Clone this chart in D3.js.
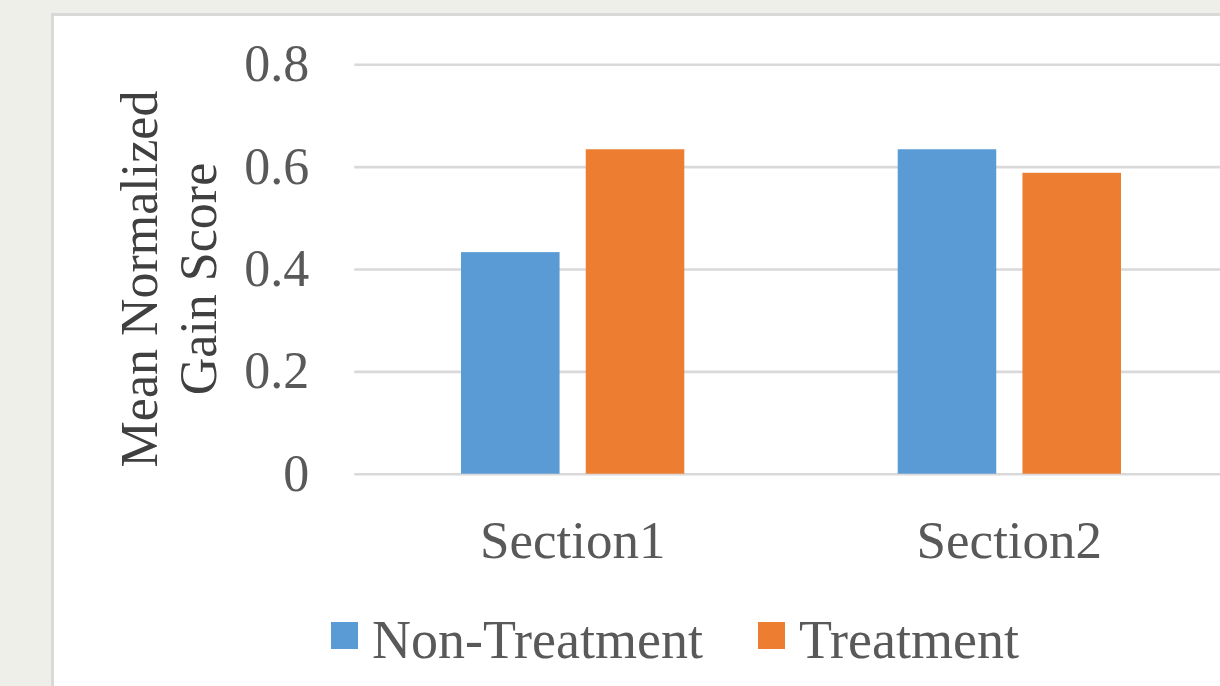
<!DOCTYPE html>
<html>
<head>
<meta charset="utf-8">
<script src="https://cdn.jsdelivr.net/npm/d3@7"></script>
<style>
  html, body { margin: 0; padding: 0; background: #efefea; }
  svg { display: block; }
  text { font-family: "Liberation Serif", "Times New Roman", serif; }
</style>
</head>
<body>
<div id="chart"></div>
<script>
const categories = ['Section1', 'Section2'];
const seriesNames = ['Non-Treatment', 'Treatment'];
const nonTreatment = [0.433, 0.634];
const treatment = [0.634, 0.588];
const yTicks = [0, 0.2, 0.4, 0.6, 0.8];
const colors = ['#5b9bd5', '#ed7d31'];

const width = 1220;
const height = 686;

const svg = d3.select('#chart')
    .append('svg')
    .attr('width', width)
    .attr('height', height);

// page background and white card
svg.append('rect')
    .attr('width', width)
    .attr('height', height)
    .attr('fill', '#efefea');

svg.append('rect')
    .attr('x', 52.5)
    .attr('y', 14.5)
    .attr('width', 1300)
    .attr('height', 800)
    .attr('fill', '#ffffff')
    .attr('stroke', '#d9d9d9')
    .attr('stroke-width', 3);

const plot = { left: 354.3, right: 1227.7, top: 64.3, bottom: 473.7 };

const y = d3.scaleLinear()
    .domain([0, 0.8])
    .range([plot.bottom, plot.top]);

const x0 = d3.scaleBand()
    .domain(categories)
    .range([plot.left, plot.right])
    .padding(0);

const groupPad = 106.7;
const x1 = d3.scaleBand()
    .domain(seriesNames)
    .range([groupPad, x0.bandwidth() - groupPad])
    .paddingInner(0.21);

// gridlines + y labels
const yAxis = svg.append('g')
    .attr('transform', `translate(${plot.left},0)`)
    .call(d3.axisLeft(y)
        .tickValues(yTicks)
        .tickSize(-(width - plot.left))
        .tickPadding(45)
        .tickFormat(d => d === 0 ? '0' : d3.format('.1f')(d)));

yAxis.select('.domain').remove();
yAxis.selectAll('line')
    .attr('stroke', '#d9d9d9')
    .attr('stroke-width', 2.6);
yAxis.selectAll('text')
    .attr('fill', '#595959')
    .style('font-size', '52px');

// bars
const data = categories.map((c, i) => ({
    category: c,
    values: [
        { series: seriesNames[0], value: nonTreatment[i] },
        { series: seriesNames[1], value: treatment[i] }
    ]
}));

const groups = svg.selectAll('.group')
    .data(data)
    .enter().append('g')
    .classed('group', true)
    .attr('transform', d => `translate(${x0(d.category)},0)`);

groups.selectAll('rect')
    .data(d => d.values)
    .enter().append('rect')
    .attr('x', d => x1(d.series))
    .attr('y', d => y(d.value))
    .attr('width', x1.bandwidth())
    .attr('height', d => y(0) - y(d.value))
    .attr('fill', (d, i) => colors[i]);

// category labels
const xAxis = svg.append('g')
    .attr('transform', `translate(0,${plot.bottom})`)
    .call(d3.axisBottom(x0).tickSize(0).tickPadding(47));

xAxis.select('.domain').remove();
xAxis.selectAll('text')
    .attr('fill', '#595959')
    .style('font-size', '53px');

// y axis title
const title = svg.append('text')
    .attr('transform', 'translate(157,279) rotate(-90)')
    .attr('text-anchor', 'middle')
    .attr('fill', '#404040')
    .style('font-size', '52px');

title.append('tspan')
    .attr('x', 0)
    .attr('dy', 0)
    .text('Mean Normalized');

title.append('tspan')
    .attr('x', 0)
    .attr('dy', 59)
    .text('Gain Score');

// legend
const legendX = [331, 758];
const legend = svg.selectAll('.legend')
    .data(seriesNames)
    .enter().append('g')
    .classed('legend', true)
    .attr('transform', (d, i) => `translate(${legendX[i]},622)`);

legend.append('rect')
    .attr('width', 27)
    .attr('height', 27)
    .attr('fill', (d, i) => colors[i]);

legend.append('text')
    .attr('x', 41)
    .attr('y', 36)
    .attr('fill', '#595959')
    .style('font-size', '54px')
    .text(d => d);
</script>
</body>
</html>
